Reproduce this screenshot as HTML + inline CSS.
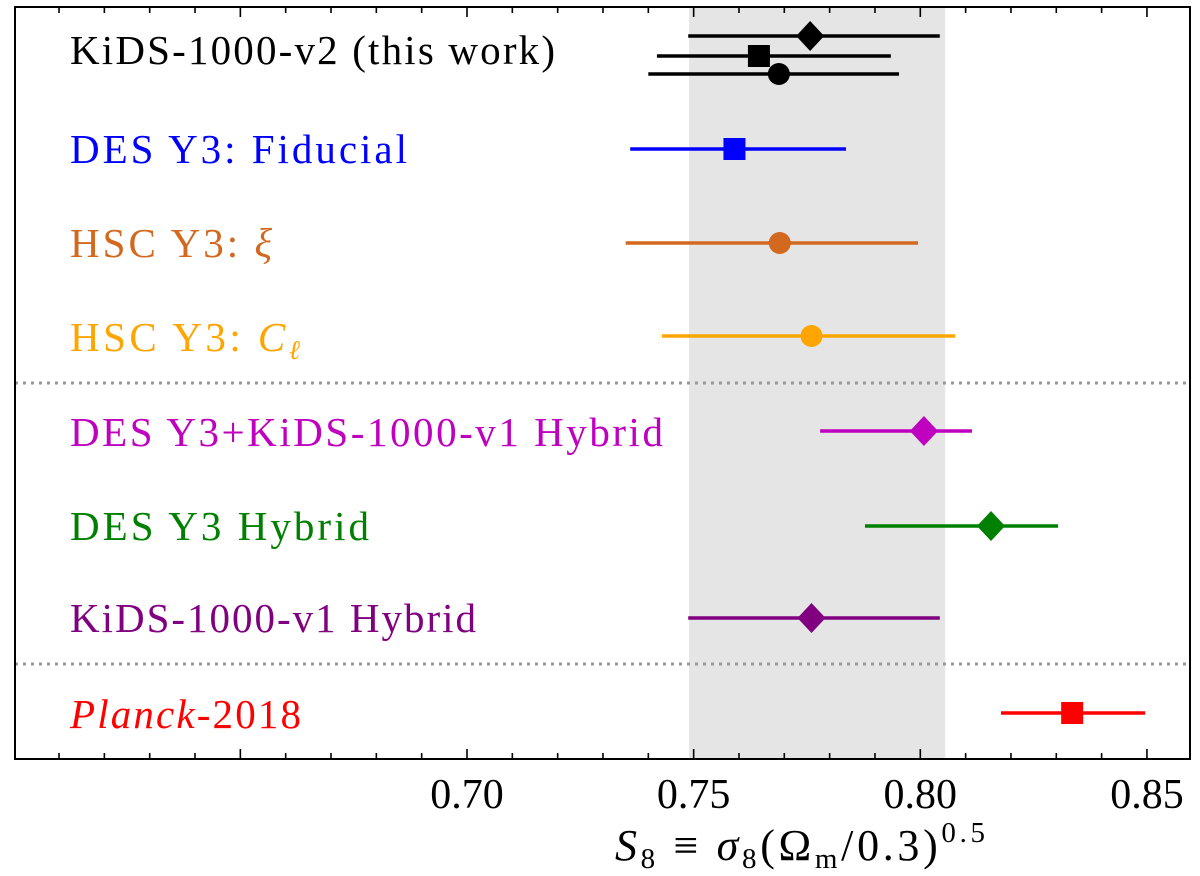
<!DOCTYPE html>
<html><head><meta charset="utf-8"><style>
html,body{margin:0;padding:0;background:#fff;width:1200px;height:876px;overflow:hidden}
text{font-family:"Liberation Serif","DejaVu Serif",serif}
</style></head><body>
<svg id="chart" width="1200" height="876" viewBox="0 0 1200 876" xmlns="http://www.w3.org/2000/svg">
<rect id="band" fill="#e5e5e5"/>
<g id="marks"></g>
<rect x="15" y="7" width="1175" height="752" fill="none" stroke="#000" stroke-width="2"/>
<g id="ticks"></g>
<text x="615" y="860" font-size="44" textLength="370" lengthAdjust="spacing"><tspan font-style="italic">S</tspan><tspan font-size="29" dy="8">8</tspan><tspan dy="-8"> ≡ </tspan><tspan font-style="italic">σ</tspan><tspan font-size="29" dy="8">8</tspan><tspan dy="-8">(Ω</tspan><tspan font-size="29" dy="8">m</tspan><tspan dy="-8">/0.3)</tspan><tspan font-size="29" dy="-18">0.5</tspan></text>
</svg>
<script>
const labels=["KiDS-1000-v2 (this work)","","","DES Y3: Fiducial","HSC Y3: ξ","HSC Y3: Cℓ","DES Y3+KiDS-1000-v1 Hybrid","DES Y3 Hybrid","KiDS-1000-v1 Hybrid","Planck-2018"];
const centers=[0.7757,0.7644,0.7688,0.759,0.769,0.776,0.8008,0.8156,0.776,0.8335];
const lows=[0.7488,0.7419,0.740,0.736,0.735,0.743,0.7779,0.7878,0.7488,0.8178];
const highs=[0.8043,0.7935,0.7953,0.7836,0.7995,0.8077,0.8114,0.8304,0.8043,0.8496];
const markers=["diamond","square","circle","square","circle","circle","diamond","diamond","diamond","square"];
const colors=["#000","#000","#000","#0000ff","#d2691e","#ffa500","#bf00bf","#008000","#800080","#ff0000"];
const rowY=[36,56,74,149,243,336,431,526,618,713];
const labelY=[64,0,0,163,257,351,446,540,632,728];
const labelW=[485,0,0,337,202,230,593,299,406,231];
const dividerY=[383,664];
const tickVals=[0.70,0.75,0.80,0.85];
const tickLabels=["0.70","0.75","0.80","0.85"];
const band=[0.749,0.8055];
const X=v=>467+(v-0.70)*4533;
const NS="http://www.w3.org/2000/svg";
function mk(t,a,p){const e=document.createElementNS(NS,t);for(const k in a)e.setAttribute(k,a[k]);p.appendChild(e);return e;}
const b=document.getElementById('band');
b.setAttribute('x',X(band[0]));b.setAttribute('width',X(band[1])-X(band[0]));b.setAttribute('y',7);b.setAttribute('height',752);
const g=document.getElementById('marks');
dividerY.forEach((y,i)=>{const l=mk('line',{x1:15,x2:1190,y1:y,y2:y,stroke:'#999','stroke-width':3,'stroke-dasharray':'3,5'},g);

});
centers.forEach((c,i)=>{
 const y=rowY[i],col=colors[i];
 const l=mk('line',{x1:X(lows[i]),x2:X(highs[i]),y1:y,y2:y,stroke:col,'stroke-width':3.5},g);
 
 
 const x=X(c);let m;
 if(markers[i]==='diamond')m=mk('polygon',{points:`${x},${y-15} ${x+14},${y} ${x},${y+15} ${x-14},${y}`,fill:col},g);
 else if(markers[i]==='square')m=mk('rect',{x:x-11,y:y-11,width:22,height:22,fill:col},g);
 else m=mk('circle',{cx:x,cy:y,r:11,fill:col},g);
 
 
 if(labels[i]){
  const t=mk('text',{x:70,y:labelY[i],'font-size':41,fill:col,textLength:labelW[i],lengthAdjust:'spacing'},g);
  
  
  if(i===9){t.innerHTML='<tspan font-style="italic">Planck</tspan>-2018';}
  else if(i===4){t.innerHTML='HSC Y3: <tspan font-style="italic">ξ</tspan>';}
  else if(i===5){t.innerHTML='HSC Y3: <tspan font-style="italic">C</tspan><tspan font-style="italic" font-size="27" dy="8">ℓ</tspan>';}
  else t.textContent=labels[i];
 }
});
const tg=document.getElementById('ticks');
for(let k=61;k<=85;k++){const v=k/100,x=X(v);const major=k%5===0;const L=major?10:6;
 mk('line',{x1:x,x2:x,y1:759,y2:759-L,stroke:'#000','stroke-width':1.6},tg);
 mk('line',{x1:x,x2:x,y1:7,y2:7+L,stroke:'#000','stroke-width':1.6},tg);}
tickVals.forEach((v,i)=>{const t=mk('text',{x:X(v),y:808,'font-size':42,'text-anchor':'middle'},tg);
 
 
 t.textContent=tickLabels[i];});
</script>
</body></html>
